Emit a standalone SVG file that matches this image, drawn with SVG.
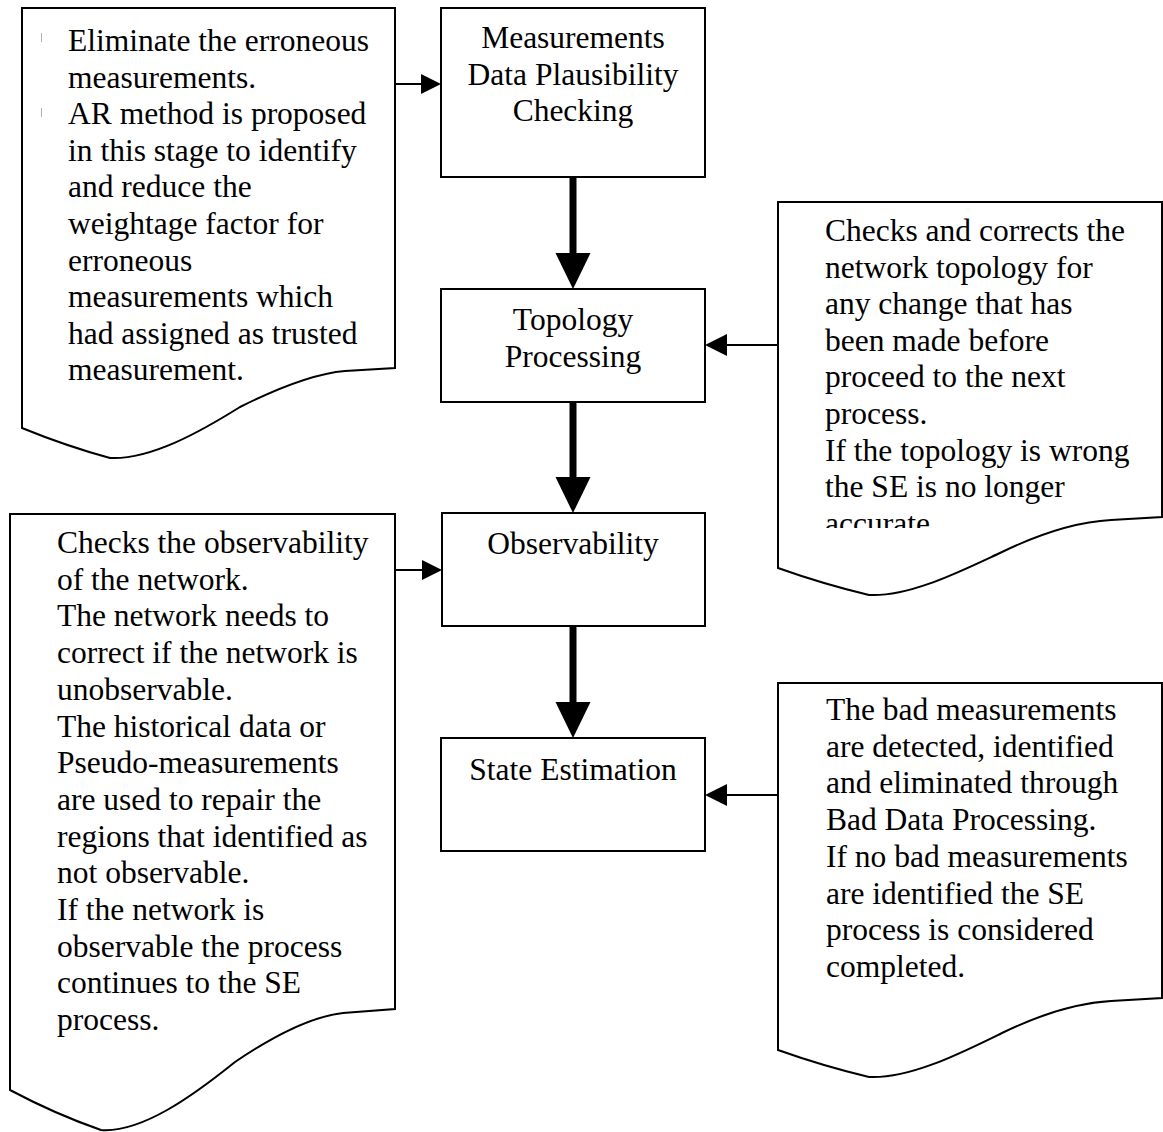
<svg xmlns="http://www.w3.org/2000/svg" width="1163" height="1132" viewBox="0 0 1163 1132">
<style>
.shape{fill:#fff;stroke:#000;stroke-width:2}
.t{font-family:"Liberation Serif","Times New Roman",serif;font-size:31.5px;fill:#000}
.c{text-anchor:middle}
.thin{stroke:#000;stroke-width:2;fill:none}
.thick{stroke:#000;stroke-width:7;fill:none}
.head{fill:#000}
.tick{stroke:#b0b0b0;stroke-width:1}
</style>
<defs>
<clipPath id="clipR1"><rect x="778" y="202" width="384" height="326"/></clipPath>
</defs>
<rect width="1163" height="1132" fill="#fff"/>

<g id="note-eliminate">
<path class="shape" d="M22,8 H395 V368 L345,371 C310,374 270,392 240,407 C200,432 150,460 110,458 Q66,446 22,428 Z"/>
<line class="tick" x1="41.5" y1="33" x2="41.5" y2="42"/>
<line class="tick" x1="41.5" y1="108" x2="41.5" y2="117"/>
<text class="t" x="68" y="51">Eliminate the erroneous</text>
<text class="t" x="68" y="87.6">measurements.</text>
<text class="t" x="68" y="124.2">AR method is proposed</text>
<text class="t" x="68" y="160.8">in this stage to identify</text>
<text class="t" x="68" y="197.4">and reduce the</text>
<text class="t" x="68" y="234">weightage factor for</text>
<text class="t" x="68" y="270.6">erroneous</text>
<text class="t" x="68" y="307.2">measurements which</text>
<text class="t" x="68" y="343.8">had assigned as trusted</text>
<text class="t" x="68" y="380.4">measurement.</text>
</g>

<g id="box-plausibility">
<rect class="shape" x="441" y="8" width="264" height="169"/>
<text class="t c" x="573" y="48">Measurements</text>
<text class="t c" x="573" y="84.6">Data Plausibility</text>
<text class="t c" x="573" y="121.2">Checking</text>
</g>

<g id="box-topology">
<rect class="shape" x="441" y="289" width="264" height="113"/>
<text class="t c" x="573" y="330">Topology</text>
<text class="t c" x="573" y="366.6">Processing</text>
</g>

<g id="box-observability">
<rect class="shape" x="442" y="513" width="263" height="113"/>
<text class="t c" x="573" y="554">Observability</text>
</g>

<g id="box-se">
<rect class="shape" x="441" y="738" width="264" height="113"/>
<text class="t c" x="573" y="780">State Estimation</text>
</g>

<g id="note-topology">
<path class="shape" d="M778,202 H1162 V517 L1111,520 C1074,522 1033,537 1002,552 C961,571 910,597 869,595 Q823,584 778,568 Z"/>
<g clip-path="url(#clipR1)">
<text class="t" x="825" y="241">Checks and corrects the</text>
<text class="t" x="825" y="277.6">network topology for</text>
<text class="t" x="825" y="314.2">any change that has</text>
<text class="t" x="825" y="350.8">been made before</text>
<text class="t" x="825" y="387.4">proceed to the next</text>
<text class="t" x="825" y="424">process.</text>
<text class="t" x="825" y="460.6">If the topology is wrong</text>
<text class="t" x="825" y="497.2">the SE is no longer</text>
<text class="t" x="825" y="533.8">accurate.</text>
</g>
</g>

<g id="note-observability">
<path class="shape" d="M10,514 H395 V1009 L343,1013 C307,1017 266,1041 235,1062 C194,1095 142,1133 101,1130 Q55,1114 10,1090 Z"/>
<text class="t" x="57" y="553">Checks the observability</text>
<text class="t" x="57" y="589.7">of the network.</text>
<text class="t" x="57" y="626.4">The network needs to</text>
<text class="t" x="57" y="663.1">correct if the network is</text>
<text class="t" x="57" y="699.8">unobservable.</text>
<text class="t" x="57" y="736.5">The historical data or</text>
<text class="t" x="57" y="773.2">Pseudo-measurements</text>
<text class="t" x="57" y="809.9">are used to repair the</text>
<text class="t" x="57" y="846.6">regions that identified as</text>
<text class="t" x="57" y="883.3">not observable.</text>
<text class="t" x="57" y="920">If the network is</text>
<text class="t" x="57" y="956.7">observable the process</text>
<text class="t" x="57" y="993.4">continues to the SE</text>
<text class="t" x="57" y="1030.1">process.</text>
</g>

<g id="note-baddata">
<path class="shape" d="M778,683 H1162 V998 L1111,1001 C1074,1003 1033,1018 1002,1033 C961,1053 910,1079 869,1077 Q823,1066 778,1050 Z"/>
<text class="t" x="826" y="720">The bad measurements</text>
<text class="t" x="826" y="756.7">are detected, identified</text>
<text class="t" x="826" y="793.4">and eliminated through</text>
<text class="t" x="826" y="830.1">Bad Data Processing.</text>
<text class="t" x="826" y="866.8">If no bad measurements</text>
<text class="t" x="826" y="903.5">are identified the SE</text>
<text class="t" x="826" y="940.2">process is considered</text>
<text class="t" x="826" y="976.9">completed.</text>
</g>

<g id="connectors">
<line class="thin" x1="395" y1="84" x2="423" y2="84"/>
<polygon class="head" points="441,84 421,74 421,94"/>
<line class="thin" x1="395" y1="570" x2="424" y2="570"/>
<polygon class="head" points="442,570 422,560 422,580"/>
<line class="thin" x1="778" y1="345" x2="724" y2="345"/>
<polygon class="head" points="705,345 727,334 727,356"/>
<line class="thin" x1="778" y1="795" x2="724" y2="795"/>
<polygon class="head" points="705,795 727,784 727,806"/>
<line class="thick" x1="573" y1="177" x2="573" y2="256"/>
<polygon class="head" points="573,289 555.5,253 590.5,253"/>
<line class="thick" x1="573" y1="402" x2="573" y2="480"/>
<polygon class="head" points="573,513 555.5,477 590.5,477"/>
<line class="thick" x1="573" y1="626" x2="573" y2="705"/>
<polygon class="head" points="573,738 555.5,702 590.5,702"/>
</g>
</svg>
